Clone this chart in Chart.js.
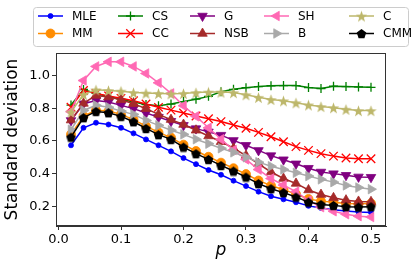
<!DOCTYPE html>
<html lang="en">
<head>
<meta charset="UTF-8">
<script src="https://cdn.jsdelivr.net/npm/chart.js@4.4.1/dist/chart.umd.min.js"></script>
<title>Standard deviation vs p</title>
<style>
  html, body { margin: 0; padding: 0; background: #fff; }
</style>
</head>
<body>
<canvas id="myChart" width="416" height="273"></canvas>
<script>
// p values on the x axis
const pValues = [0.02, 0.04, 0.06, 0.08, 0.10, 0.12, 0.14, 0.16, 0.18, 0.20, 0.22, 0.24, 0.26,
                 0.28, 0.30, 0.32, 0.34, 0.36, 0.38, 0.40, 0.42, 0.44, 0.46, 0.48, 0.50];

// standard deviation per estimator
const mle = [0.573, 0.680, 0.711, 0.700, 0.680, 0.646, 0.609, 0.573, 0.536, 0.495, 0.458, 0.422, 0.393,
             0.357, 0.324, 0.290, 0.262, 0.243, 0.225, 0.203, 0.190, 0.180, 0.172, 0.166, 0.163];
const mm  = [0.640, 0.752, 0.787, 0.782, 0.762, 0.730, 0.690, 0.652, 0.620, 0.577, 0.538, 0.503, 0.467,
             0.433, 0.397, 0.358, 0.327, 0.302, 0.275, 0.245, 0.232, 0.225, 0.218, 0.216, 0.218];
const cs  = [0.819, 0.914, 0.890, 0.870, 0.855, 0.838, 0.822, 0.815, 0.825, 0.840, 0.855, 0.872, 0.900,
             0.915, 0.925, 0.932, 0.937, 0.938, 0.938, 0.926, 0.920, 0.934, 0.932, 0.930, 0.927];
const cc  = [0.806, 0.908, 0.890, 0.875, 0.860, 0.845, 0.825, 0.805, 0.788, 0.770, 0.752, 0.735, 0.718,
             0.697, 0.677, 0.652, 0.625, 0.595, 0.565, 0.542, 0.522, 0.507, 0.495, 0.491, 0.491];
const g   = [0.725, 0.827, 0.847, 0.837, 0.817, 0.797, 0.770, 0.745, 0.720, 0.695, 0.675, 0.655, 0.635,
             0.603, 0.573, 0.542, 0.510, 0.485, 0.460, 0.433, 0.410, 0.400, 0.390, 0.380, 0.378];
const nsb = [0.727, 0.829, 0.878, 0.868, 0.851, 0.827, 0.797, 0.762, 0.730, 0.700, 0.665, 0.630, 0.595,
             0.555, 0.510, 0.460, 0.410, 0.370, 0.340, 0.300, 0.272, 0.252, 0.238, 0.230, 0.228];
const sh  = [0.778, 0.969, 1.055, 1.083, 1.083, 1.055, 1.012, 0.955, 0.890, 0.815, 0.750, 0.680, 0.610,
             0.545, 0.487, 0.425, 0.370, 0.330, 0.290, 0.235, 0.195, 0.170, 0.152, 0.140, 0.135];
const b   = [0.668, 0.786, 0.817, 0.806, 0.782, 0.762, 0.725, 0.695, 0.665, 0.640, 0.610, 0.583, 0.555,
             0.530, 0.500, 0.470, 0.445, 0.425, 0.405, 0.385, 0.365, 0.348, 0.328, 0.315, 0.305];
const c   = [0.776, 0.884, 0.912, 0.908, 0.904, 0.895, 0.892, 0.890, 0.888, 0.890, 0.895, 0.898, 0.898,
             0.895, 0.882, 0.866, 0.853, 0.845, 0.833, 0.820, 0.810, 0.803, 0.793, 0.785, 0.785];
const cmm = [0.623, 0.742, 0.780, 0.772, 0.750, 0.717, 0.676, 0.638, 0.609, 0.562, 0.522, 0.487, 0.450,
             0.416, 0.379, 0.339, 0.308, 0.284, 0.257, 0.226, 0.212, 0.206, 0.198, 0.196, 0.198];

const xTicks = [0.0, 0.1, 0.2, 0.3, 0.4, 0.5];
const yTicks = [0.2, 0.4, 0.6, 0.8, 1.0];

const FONT = "'DejaVu Sans', sans-serif";

// filled star / pentagon markers (no built-in Chart.js style for these)
function polyMarker(kind, color, size) {
  const cv = document.createElement('canvas');
  cv.width = size; cv.height = size;
  const cx = cv.getContext('2d');
  const r = size / 2 - 0.5;
  const n = kind === 'star' ? 10 : 5;
  cx.beginPath();
  for (let k = 0; k < n; k++) {
    const a = -Math.PI / 2 + k * 2 * Math.PI / n;
    const rr = (kind === 'star' && k % 2) ? r * 0.4 : r;
    const px = size / 2 + rr * Math.cos(a);
    const py = size / 2 + rr * Math.sin(a) + (kind === 'pent' ? 0.6 : 0.8);
    if (k === 0) cx.moveTo(px, py); else cx.lineTo(px, py);
  }
  cx.closePath();
  cx.fillStyle = color;
  cx.fill();
  return cv;
}

const series = [
  { label: 'MLE', data: mle, color: '#0000ff', style: 'circle',   rot: 0,   r: 2.5 },
  { label: 'MM',  data: mm,  color: '#ff8c00', style: 'circle',   rot: 0,   r: 4.5 },
  { label: 'CS',  data: cs,  color: '#008000', style: 'cross',    rot: 0,   r: 4.5 },
  { label: 'CC',  data: cc,  color: '#ff0000', style: 'crossRot', rot: 0,   r: 6 },
  { label: 'G',   data: g,   color: '#800080', style: 'triangle', rot: 180, r: 5.5 },
  { label: 'NSB', data: nsb, color: '#a52a2a', style: 'triangle', rot: 0,   r: 5.5 },
  { label: 'SH',  data: sh,  color: '#ff69b4', style: 'triangle', rot: -90, r: 5.5 },
  { label: 'B',   data: b,   color: '#a9a9a9', style: 'triangle', rot: 90,  r: 5.5 },
  { label: 'C',   data: c,   color: '#bdb76b', style: polyMarker('star', '#bdb76b', 13), rot: 0, r: 6 },
  { label: 'CMM', data: cmm, color: '#000000', style: polyMarker('pent', '#000000', 11), rot: 0, r: 5 }
];

const datasets = series.map((s, i) => ({
  label: s.label,
  data: pValues.map((p, k) => ({ x: p, y: s.data[k] })),
  borderColor: s.color,
  backgroundColor: s.color,
  borderWidth: 1.5,
  pointStyle: s.style,
  pointRotation: s.rot,
  pointRadius: s.r,
  pointBackgroundColor: s.color,
  pointBorderColor: s.color,
  pointBorderWidth: (s.style === 'cross' || s.style === 'crossRot') ? 1.3 : 0.8,
  tension: 0,
  order: series.length - i   // later series on top, like matplotlib
}));

// matplotlib-like legend: 5 columns x 2 rows, column-major
const legendCols = [38, 118, 190, 264, 349];
const legendRows = [16, 33.5];

const gridLegend = {
  id: 'gridLegend',
  afterDraw(chart) {
    const ctx = chart.ctx;
    ctx.save();
    ctx.beginPath();
    ctx.roundRect(33.5, 7.5, 375, 39, 3);
    ctx.fillStyle = 'rgba(255,255,255,0.8)';
    ctx.fill();
    ctx.strokeStyle = '#cccccc';
    ctx.lineWidth = 1;
    ctx.stroke();
    ctx.font = '12px ' + FONT;
    ctx.textBaseline = 'middle';
    chart.data.datasets.forEach((ds, i) => {
      const x0 = legendCols[Math.floor(i / 2)];
      const y = legendRows[i % 2];
      ctx.strokeStyle = ds.borderColor;
      ctx.lineWidth = ds.borderWidth;
      ctx.beginPath();
      ctx.moveTo(x0, y);
      ctx.lineTo(x0 + 25, y);
      ctx.stroke();
      ctx.fillStyle = ds.pointBackgroundColor;
      ctx.strokeStyle = ds.pointBorderColor;
      ctx.lineWidth = ds.pointBorderWidth;
      Chart.helpers.drawPoint(ctx, {
        pointStyle: ds.pointStyle, rotation: ds.pointRotation,
        radius: ds.pointRadius, borderWidth: ds.pointBorderWidth
      }, x0 + 12.5, y);
      ctx.fillStyle = '#000';
      ctx.fillText(ds.label, x0 + 34, y + 0.5);
    });
    ctx.restore();
  }
};

// full box around the plot
const frame = {
  id: 'frame',
  afterDatasetsDraw(chart) {
    const a = chart.chartArea;
    const ctx = chart.ctx;
    ctx.save();
    ctx.strokeStyle = '#333';
    ctx.lineWidth = 1;
    ctx.strokeRect(Math.round(a.left) + 0.5, Math.round(a.top) + 0.5,
                   Math.round(a.right - a.left) - 1, Math.round(a.bottom - a.top) - 1);
    ctx.restore();
  }
};

new Chart('myChart', {
  type: 'line',
  data: { datasets: datasets },
  options: {
    responsive: false,
    animation: false,
    layout: { padding: { left: 0, right: 30, top: 53, bottom: 0 } },
    plugins: { legend: { display: false }, tooltip: { enabled: false } },
    scales: {
      x: {
        type: 'linear',
        min: -0.004,
        max: 0.524,
        afterFit: (s) => { s.height = 47; },
        afterBuildTicks: (s) => { s.ticks = xTicks.map(v => ({ value: v })); },
        grid: { drawOnChartArea: false, drawTicks: true, tickLength: 4, color: '#333' },
        border: { display: true, color: '#333' },
        ticks: {
          padding: 2, color: '#000', font: { family: FONT, size: 13 },
          maxRotation: 0, autoSkip: false,
          callback: (v) => v.toFixed(1)
        },
        title: {
          display: true, text: 'p', color: '#000',
          font: { family: FONT, size: 17, style: 'italic' },
          padding: { top: 0, bottom: 12 }
        }
      },
      y: {
        min: 0.08,
        max: 1.137,
        afterFit: (s) => { s.width = 56; },
        afterBuildTicks: (s) => { s.ticks = yTicks.map(v => ({ value: v })); },
        grid: { drawOnChartArea: false, drawTicks: true, tickLength: 4, color: '#333' },
        border: { display: true, color: '#333' },
        ticks: {
          padding: 2, color: '#000', font: { family: FONT, size: 13 },
          autoSkip: false,
          callback: (v) => v.toFixed(1)
        },
        title: {
          display: true, text: 'Standard deviation', color: '#000',
          font: { family: FONT, size: 17 },
          padding: { top: 2, bottom: 0 }
        }
      }
    }
  },
  plugins: [gridLegend, frame]
});
</script>
</body>
</html>
